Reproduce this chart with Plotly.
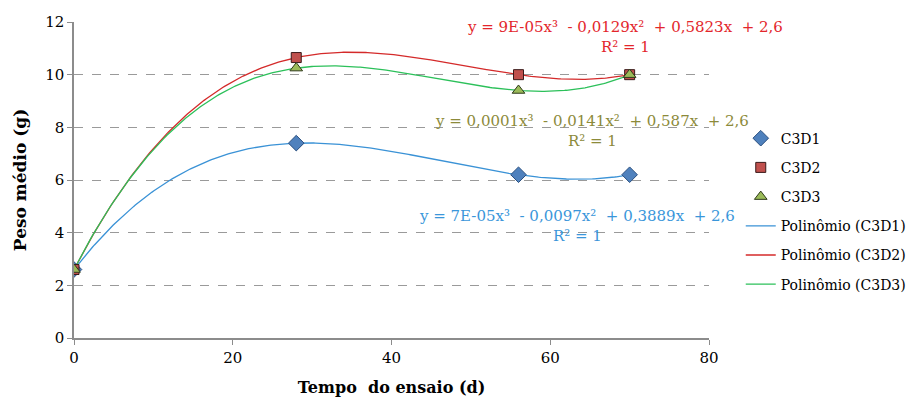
import numpy as np
import plotly.graph_objects as go

x_days = [0, 28, 56, 70]
c3d1 = [2.6, 7.4, 6.2, 6.2]
c3d2 = [2.6, 10.65, 10.0, 10.0]
c3d3 = [2.6, 10.25, 9.4, 10.0]

eq1 = "y = 7E-05x³  - 0,0097x²  + 0,3889x  + 2,6<br>R² = 1"
eq2 = "y = 9E-05x³  - 0,0129x²  + 0,5823x  + 2,6<br>R² = 1"
eq3 = "y = 0,0001x³  - 0,0141x²  + 0,587x  + 2,6<br>R² = 1"

font = "DejaVu Serif"

fig = go.Figure()

series = [
    ("C3D1", c3d1, "diamond", "#4F81BD", "#2A4F7F", 12),
    ("C3D2", c3d2, "square", "#C0504D", "#3A1A1A", 10),
    ("C3D3", c3d3, "triangle-up", "#9BBB59", "#2F3A1A", 11),
]
line_cols = ["#3A92D6", "#D42A2A", "#2CC05A"]
xs = np.linspace(min(x_days), max(x_days), 300)
for i, ((name, ys, *_), lc) in enumerate(zip(series, line_cols)):
    coef = np.polyfit(x_days, ys, 3)
    fig.add_trace(go.Scatter(x=xs, y=np.polyval(coef, xs), mode="lines",
                             name=f"Polinômio ({name})", legendrank=4 + i,
                             legendgroup=f"l{i}",
                             line=dict(color=lc, width=1.3)))
for i, (name, ys, sym, col, lcol, sz) in enumerate(series):
    fig.add_trace(go.Scatter(x=x_days, y=ys, mode="markers", name=name,
                             legendrank=1 + i, legendgroup=f"m{i}",
                             marker=dict(symbol=sym, color=col, size=sz,
                                         line=dict(color=lcol, width=1))))

fig.add_annotation(x=0.868, y=0.954, xref="paper", yref="paper", text=eq2,
                   showarrow=False, font=dict(family=font, size=15, color="#E3262B"),
                   xanchor="center", yanchor="middle", align="center")
fig.add_annotation(x=0.816, y=0.655, xref="paper", yref="paper", text=eq3,
                   showarrow=False, font=dict(family=font, size=15, color="#8C8A3A"),
                   xanchor="center", yanchor="middle", align="center")
fig.add_annotation(x=0.792, y=0.355, xref="paper", yref="paper", text=eq1,
                   showarrow=False, font=dict(family=font, size=15, color="#3A96DA"),
                   xanchor="center", yanchor="middle", align="center")

fig.update_layout(
    width=918, height=405,
    margin=dict(l=66, r=217, t=14, b=75),
    paper_bgcolor="white", plot_bgcolor="white",
    font=dict(family=font, size=15, color="black"),
    legend=dict(x=1.05, y=0.40, xanchor="left", yanchor="middle",
                font=dict(family=font, size=14), tracegroupgap=8,
                bgcolor="rgba(0,0,0,0)"),
    xaxis=dict(range=[0, 80], dtick=20, showgrid=False, zeroline=False,
               showline=True, linecolor="#8C8C8C", linewidth=1.5,
               tickfont=dict(family=font, size=15),
               ticks="outside", ticklen=5, tickcolor="#8C8C8C", automargin=False,
               title=dict(text="<b>Tempo  do ensaio (d)</b>",
                          font=dict(family=font, size=16), standoff=16)),
    yaxis=dict(range=[0, 12], dtick=2, showgrid=True, gridcolor="#9A9A9A",
               griddash="dash", gridwidth=1, zeroline=False,
               showline=True, linecolor="#8C8C8C", linewidth=1.5,
               tickfont=dict(family=font, size=15),
               ticks="outside", ticklen=5, tickcolor="#8C8C8C", automargin=False,
               title=dict(text="<b>Peso médio (g)</b>",
                          font=dict(family=font, size=17), standoff=14)),
)

fig.write_html("out.html")
